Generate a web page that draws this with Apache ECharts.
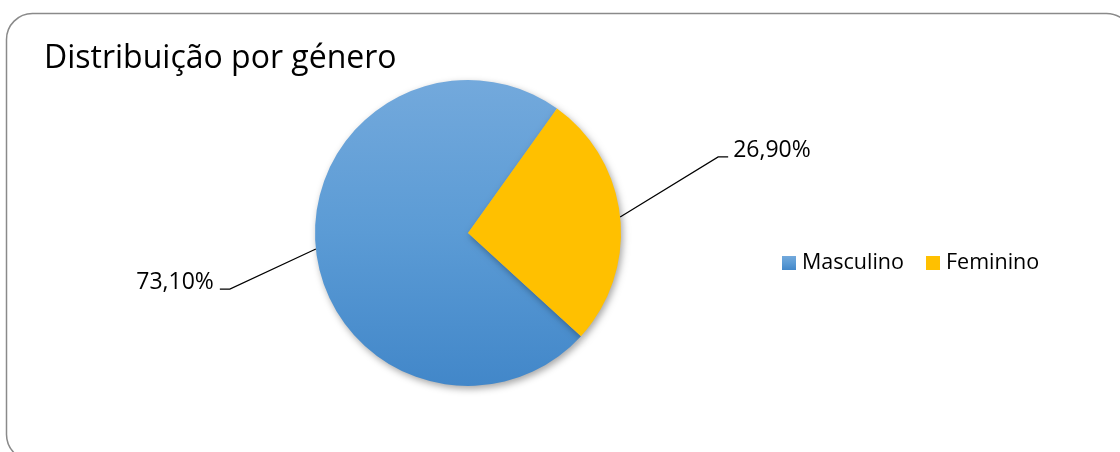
<!DOCTYPE html>
<html>
<head>
<meta charset="utf-8">
<script src="https://cdn.jsdelivr.net/npm/echarts@6/dist/echarts.min.js"></script>
<style>
  html, body { margin: 0; padding: 0; background: #ffffff; }
  #chart { width: 1120px; height: 452px; }
</style>
</head>
<body>
<div id="chart"></div>
<script>
// ---- Data ----
const titleText = 'Distribuição por género';
const categories = ['Masculino', 'Feminino'];
const values = [73.10, 26.90];
const labelTexts = ['73,10%', '26,90%'];

// ---- Styles ----
const FONT = '"Open Sans", "DejaVu Sans", sans-serif';
const blueGradient = new echarts.graphic.LinearGradient(0, 0, 0, 1, [
  { offset: 0, color: '#73a9dc' },
  { offset: 0.5, color: '#5b9bd5' },
  { offset: 1, color: '#4287c9' }
]);
const colors = [blueGradient, '#ffc000'];

// label placement offsets (relative to leader start on the slice edge)
const labelOffsets = [
  { dx: -86, dy: 40, tail: -10, align: 'right' },
  { dx: 98, dy: -60, tail: 10, align: 'left' }
];

const chart = echarts.init(document.getElementById('chart'), null, { renderer: 'canvas' });

const option = {
  animation: false,
  backgroundColor: '#ffffff',
  graphic: [{
    type: 'rect',
    silent: true,
    z: -10,
    shape: { x: 6.5, y: 13.5, width: 1126, height: 447, r: 26 },
    style: { fill: 'none', stroke: '#8a8a8a', lineWidth: 1.5 }
  }],
  title: {
    text: titleText,
    left: 44,
    top: 43,
    padding: 0,
    textStyle: { fontFamily: FONT, fontSize: 32, fontWeight: 'normal', color: '#000000' }
  },
  legend: {
    data: categories,
    orient: 'horizontal',
    left: 782,
    top: 252,
    padding: 0,
    itemWidth: 14,
    itemHeight: 14,
    itemGap: 22,
    icon: 'rect',
    textStyle: { fontFamily: FONT, fontSize: 21.5, color: '#000000', padding: [0, 0, 0, 1] }
  },
  series: [{
    type: 'pie',
    center: [468, 233],
    radius: 153,
    startAngle: -42.4,
    clockwise: true,
    avoidLabelOverlap: false,
    data: categories.map((c, i) => ({
      name: c,
      value: values[i],
      itemStyle: { color: colors[i] }
    })),
    itemStyle: {
      borderWidth: 0,
      shadowBlur: 7,
      shadowColor: 'rgba(0,0,0,0.35)',
      shadowOffsetX: 2,
      shadowOffsetY: 3
    },
    label: {
      show: true,
      position: 'outside',
      formatter: (p) => labelTexts[p.dataIndex],
      fontFamily: FONT,
      fontSize: 23,
      color: '#000000'
    },
    labelLine: {
      show: true,
      length: 20,
      length2: 10,
      smooth: false,
      lineStyle: { color: '#000000', width: 1.2 }
    },
    labelLayout: function (params) {
      const o = labelOffsets[params.dataIndex];
      const p0 = params.labelLinePoints[0];
      const elbow = [p0[0] + o.dx, p0[1] + o.dy];
      const end = [elbow[0] + o.tail, elbow[1]];
      const gap = o.align === 'left' ? 5 : -6;
      return {
        x: end[0] + gap,
        y: end[1] - 7,
        align: o.align,
        verticalAlign: 'middle',
        labelLinePoints: [p0, elbow, end]
      };
    },
    emphasis: { disabled: true }
  }]
};

chart.setOption(option);
</script>
</body>
</html>
